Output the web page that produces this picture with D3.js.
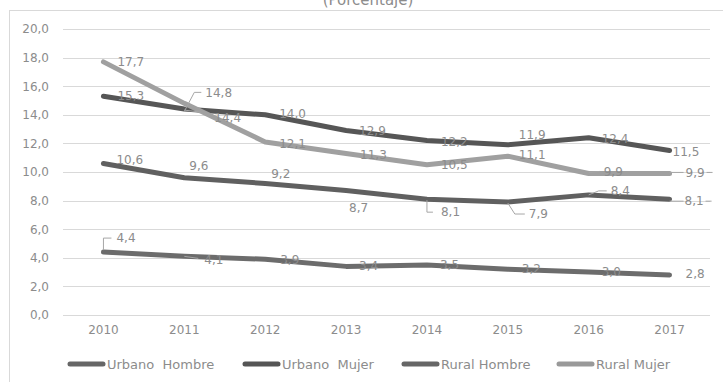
<!DOCTYPE html>
<html>
<head>
<meta charset="utf-8">
<script src="https://cdn.jsdelivr.net/npm/d3@7"></script>
<style>
  html, body { margin: 0; padding: 0; background: #fff; }
  svg { display: block; font-family: "DejaVu Sans", sans-serif; }
</style>
</head>
<body>
<svg id="chart" width="723" height="382"></svg>
<script>
// Años y series (porcentaje)
const years = ["2010", "2011", "2012", "2013", "2014", "2015", "2016", "2017"];
const seriesNames = ["Urbano  Hombre", "Urbano  Mujer", "Rural Hombre", "Rural Mujer"];
const urbanoHombre = [10.6, 9.6, 9.2, 8.7, 8.1, 7.9, 8.4, 8.1];
const urbanoMujer  = [15.3, 14.4, 14.0, 12.9, 12.2, 11.9, 12.4, 11.5];
const ruralHombre  = [4.4, 4.1, 3.9, 3.4, 3.5, 3.2, 3.0, 2.8];
const ruralMujer   = [17.7, 14.8, 12.1, 11.3, 10.5, 11.1, 9.9, 9.9];
const yTicks = [0, 2, 4, 6, 8, 10, 12, 14, 16, 18, 20];

const seriesColors = ["#606060", "#565656", "#6c6c6c", "#a0a0a0"];
const legendColors = ["#666666", "#555555", "#666666", "#999999"];

// Desplazamiento de cada etiqueta respecto a su punto: [dx, dy] (inicio del texto, centro vertical)
const labelShift = [
  [[13, -4], [5, -12], [6, -10], [3, 17], [14, 13], [21, 12], [22, -4], [15, 2]],
  [[14, 0], [30, 9], [14, -1], [13, 0], [14, 1], [11, -10], [13, 1], [3, 1]],
  [[13, -14], [20, 3], [15, 1], [13, -1], [13, 0], [14, 0], [13, 0], [16, -1]],
  [[14, 0], [21, -11], [14, 2], [14, 1.5], [14, 0], [11, -1], [15, -2], [16, -1]]
];
// Líneas guía de algunas etiquetas (puntos relativos al dato)
const leaders = [
  { s: 0, i: 4, pts: [[0, 1], [0, 13], [6, 13]] },
  { s: 0, i: 5, pts: [[0, 1], [7, 12], [17, 12]] },
  { s: 0, i: 6, pts: [[0, 0], [10, -4], [18, -4]] },
  { s: 0, i: 7, pts: [[0, 2], [14, 2]] },
  { s: 0, i: 7, pts: [[36, 2], [42, 2]] },
  { s: 1, i: 1, pts: [[0, 1], [16, 3]] },
  { s: 2, i: 0, pts: [[0, -2], [0, -14], [8, -14]] },
  { s: 2, i: 1, pts: [[0, 0], [14, 2]] },
  { s: 3, i: 1, pts: [[0, 8], [10, -11], [17, -11]] },
  { s: 3, i: 6, pts: [[0, -1], [11, -2]] },
  { s: 3, i: 7, pts: [[0, -1], [14, -1]] },
  { s: 3, i: 7, pts: [[37, -1], [43, -1]] }
];

const seriesValues = [urbanoHombre, urbanoMujer, ruralHombre, ruralMujer];
const fmt = v => d3.format(".1f")(v).replace(".", ",");

const svg = d3.select("#chart");
const textColor = "#8c8c8c";
const fontFamily = "'DejaVu Sans', sans-serif";

// Marco exterior y título
svg.append("rect")
  .attr("x", 9.5).attr("y", 10.5).attr("width", 730).attr("height", 400)
  .attr("fill", "none").attr("stroke", "#d9d9d9").attr("stroke-width", 1);
svg.append("text")
  .attr("x", 368).attr("y", 5).attr("text-anchor", "middle")
  .attr("font-size", 15).attr("fill", textColor).text("(Porcentaje)");

const x = d3.scaleBand().domain(years).range([63, 710]);
const y = d3.scaleLinear().domain([0, 20]).range([315, 29]);
const cx = yr => x(yr) + x.bandwidth() / 2;

// Rejilla horizontal
svg.append("g").selectAll("line").data(yTicks).join("line")
  .attr("x1", 63).attr("x2", 710)
  .attr("y1", d => Math.round(y(d)) + 0.5).attr("y2", d => Math.round(y(d)) + 0.5)
  .attr("stroke", "#d9d9d9").attr("stroke-width", 1);

// Eje Y
const yAxis = svg.append("g").attr("transform", "translate(49,0)")
  .call(d3.axisLeft(y).tickValues(yTicks).tickSize(0).tickPadding(0).tickFormat(fmt));
yAxis.select(".domain").remove();
yAxis.selectAll("text").attr("font-size", 12).attr("fill", textColor)
  .attr("font-family", fontFamily);

// Eje X
const xAxis = svg.append("g").attr("transform", "translate(0,325)")
  .call(d3.axisBottom(x).tickSize(0).tickPadding(0));
xAxis.select(".domain").remove();
xAxis.selectAll("text").attr("font-size", 12).attr("fill", textColor)
  .attr("font-family", fontFamily).attr("dy", "0.71em");

// Líneas de las series
const line = d3.line().x((d, i) => cx(years[i])).y(d => y(d));
svg.append("g").selectAll("path").data(seriesValues).join("path")
  .attr("d", d => line(d))
  .attr("fill", "none")
  .attr("stroke", (d, s) => seriesColors[s])
  .attr("stroke-width", 5)
  .attr("stroke-linecap", "round")
  .attr("stroke-linejoin", "round");

// Líneas guía
svg.append("g").selectAll("polyline").data(leaders).join("polyline")
  .attr("points", L => L.pts.map(p => [cx(years[L.i]) + p[0], y(seriesValues[L.s][L.i]) + p[1]].join(",")).join(" "))
  .attr("fill", "none").attr("stroke", "#a6a6a6").attr("stroke-width", 1);

// Etiquetas de datos
seriesValues.forEach((vals, s) => {
  svg.append("g").selectAll("text").data(vals).join("text")
    .attr("x", (v, i) => cx(years[i]) + labelShift[s][i][0])
    .attr("y", (v, i) => y(v) + labelShift[s][i][1])
    .attr("dy", "0.35em")
    .attr("font-size", 12).attr("fill", textColor)
    .text(v => fmt(v));
});

// Leyenda
const legendX = [68, 243, 402, 557];
const legend = svg.append("g").selectAll("g").data(seriesNames).join("g")
  .attr("transform", (d, i) => `translate(${legendX[i]},364)`);
legend.append("line")
  .attr("x1", 2).attr("x2", 35).attr("y1", 0).attr("y2", 0)
  .attr("stroke", (d, i) => legendColors[i]).attr("stroke-width", 5).attr("stroke-linecap", "round");
legend.append("text")
  .attr("x", 39).attr("y", 0).attr("dy", "0.35em")
  .attr("font-size", 13).attr("fill", textColor)
  .attr("xml:space", "preserve").style("white-space", "pre")
  .text(d => d);
</script>
</body>
</html>
